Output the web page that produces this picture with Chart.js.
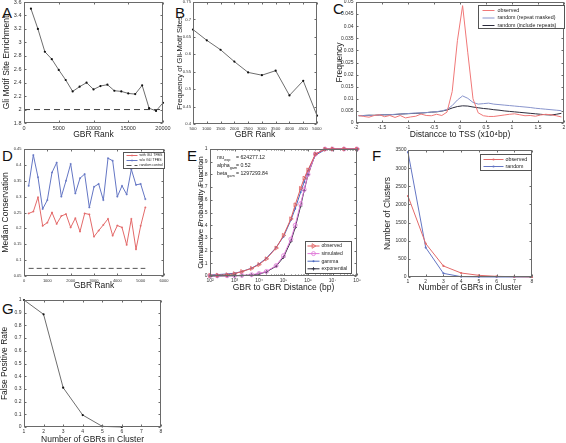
<!DOCTYPE html>
<html>
<head>
<meta charset="utf-8">
<script src="https://cdn.jsdelivr.net/npm/chart.js"></script>
<style>
html, body { margin: 0; padding: 0; background: #fff; }
body { position: relative; width: 566px; height: 443px; overflow: hidden; font-family: "Liberation Sans", Arial, sans-serif; }
canvas { position: absolute; }
.tag { position: absolute; font-size: 15px; line-height: 1; color: #111; }
</style>
</head>
<body>
<div class="tag" style="left:2px;top:5px">A</div>
<div class="tag" style="left:175px;top:5px">B</div>
<div class="tag" style="left:333px;top:1px">C</div>
<div class="tag" style="left:2px;top:148px">D</div>
<div class="tag" style="left:187px;top:148px">E</div>
<div class="tag" style="left:372px;top:148px">F</div>
<div class="tag" style="left:2px;top:301px">G</div>
<script>
// ---- data ----
// A: Gli motif site enrichment vs GBR rank
const rankA = [1000, 2000, 3000, 4000, 5000, 6000, 7000, 8000, 9000, 10000,
               11000, 12000, 13000, 14000, 15000, 16000, 17000, 18000, 19000, 20000];
const enrichA = [3.50, 3.20, 2.86, 2.75, 2.59, 2.44, 2.27, 2.34, 2.40, 2.30,
                 2.35, 2.37, 2.28, 2.27, 2.24, 2.23, 2.36, 2.02, 1.98, 2.10];
const cutoffA = 2;
const cutoffSpanA = [0, 20000];

// B: frequency of Gli-motif sites vs GBR rank
const rankB = [500, 1000, 1500, 2000, 2500, 3000, 3500, 4000, 4500, 5000];
const freqB = [0.671, 0.640, 0.613, 0.579, 0.548, 0.540, 0.553, 0.482, 0.524, 0.424];

// C: frequency vs distance to TSS (x10^4 bp)
const distC = [-1.95, -1.85, -1.75, -1.65, -1.55, -1.45, -1.35, -1.25, -1.15, -1.05,
               -0.95, -0.85, -0.75, -0.65, -0.55, -0.45, -0.35, -0.25, -0.15, -0.05,
               0.05, 0.15, 0.25, 0.35, 0.45, 0.55, 0.65, 0.75, 0.85, 0.95,
               1.05, 1.15, 1.25, 1.35, 1.45, 1.55, 1.65, 1.75, 1.85, 1.95];
const observedC = [0.0031, 0.0027, 0.0024, 0.0031, 0.0034, 0.0026, 0.0031, 0.0023, 0.0031, 0.0021,
                   0.0025, 0.0028, 0.0037, 0.0031, 0.0030, 0.0036, 0.0031, 0.0045, 0.0130, 0.0340,
                   0.0485, 0.0290, 0.0100, 0.0042, 0.0030, 0.0027, 0.0027, 0.0030, 0.0033, 0.0036,
                   0.0038, 0.0034, 0.0030, 0.0031, 0.0028, 0.0033, 0.0036, 0.0034, 0.0030, 0.0025];
const maskedC = [0.0030, 0.0031, 0.0032, 0.0031, 0.0033, 0.0034, 0.0034, 0.0036, 0.0037, 0.0038,
                 0.0040, 0.0041, 0.0042, 0.0043, 0.0045, 0.0047, 0.0050, 0.0056, 0.0072, 0.0095,
                 0.0112, 0.0102, 0.0085, 0.0078, 0.0080, 0.0082, 0.0078, 0.0076, 0.0074, 0.0072,
                 0.0070, 0.0068, 0.0066, 0.0064, 0.0061, 0.0059, 0.0057, 0.0055, 0.0053, 0.0051];
const repeatsC = [0.0030, 0.0031, 0.0032, 0.0032, 0.0033, 0.0034, 0.0034, 0.0035, 0.0037, 0.0038,
                  0.0039, 0.0040, 0.0041, 0.0043, 0.0045, 0.0046, 0.0049, 0.0054, 0.0062, 0.0068,
                  0.0071, 0.0070, 0.0066, 0.0063, 0.0060, 0.0058, 0.0055, 0.0053, 0.0050, 0.0048,
                  0.0046, 0.0044, 0.0042, 0.0040, 0.0038, 0.0036, 0.0034, 0.0033, 0.0036, 0.0040];

// D: median conservation vs GBR rank
const rankD = [200, 400, 600, 800, 1000, 1200, 1400, 1600, 1800, 2000, 2200, 2400, 2600,
               2800, 3000, 3200, 3400, 3600, 3800, 4000, 4200, 4400, 4600, 4800, 5000, 5200];
const withGliD = [0.247, 0.253, 0.298, 0.208, 0.218, 0.250, 0.214, 0.239, 0.245, 0.203, 0.232, 0.190, 0.247,
                  0.244, 0.174, 0.193, 0.211, 0.230, 0.177, 0.209, 0.203, 0.148, 0.230, 0.134, 0.208, 0.266];
const withoutGliD = [0.334, 0.431, 0.361, 0.261, 0.289, 0.376, 0.407, 0.300, 0.350, 0.403, 0.310, 0.358, 0.371,
                     0.266, 0.331, 0.340, 0.289, 0.421, 0.413, 0.300, 0.334, 0.307, 0.386, 0.337, 0.340, 0.292];
const randomD = 0.074;

// E: cumulative probability vs GBR-to-GBR distance (bp)
const distE = [100, 200, 500, 1000, 2000, 5000, 10000, 20000, 50000, 100000,
               200000, 300000, 500000, 700000, 1000000, 2000000, 5000000, 10000000, 30000000, 100000000];
const observedE = [0.005, 0.006, 0.010, 0.018, 0.035, 0.060, 0.090, 0.135, 0.220, 0.320,
                   0.450, 0.560, 0.690, 0.770, 0.835, 0.960, 0.998, 1, 1, 1];
const simulatedE = [0.001, 0.001, 0.002, 0.003, 0.005, 0.010, 0.020, 0.036, 0.082, 0.160,
                    0.290, 0.400, 0.570, 0.680, 0.800, 0.960, 1, 1, 1, 1];
const gammaE = [0.008, 0.011, 0.016, 0.022, 0.035, 0.062, 0.095, 0.140, 0.225, 0.310,
                0.440, 0.530, 0.660, 0.740, 0.830, 0.950, 0.995, 1, 1, 1];
const exponentialE = [0.000, 0.000, 0.001, 0.002, 0.003, 0.008, 0.016, 0.032, 0.077, 0.148,
                      0.274, 0.382, 0.551, 0.674, 0.798, 0.959, 1, 1, 1, 1];
const decadesE = [2, 3, 4, 5, 6, 7, 8];
const fitNotesE = [['mu', 'exp', '= 624277.12'], ['alpha', 'gam', '= 0.52'], ['beta', 'gam', '= 1297293.84']];

// F: number of clusters vs cluster size
const sizeF = [1, 2, 3, 4, 5, 6, 7, 8];
const observedF = [2229, 921, 304, 110, 46, 18, 9, 2];
const randomF = [3440, 810, 100, 9, 2, 0, 0, 0];

// G: false positive rate vs cluster size
const sizeG = [1, 2, 3, 4, 5, 6];
const fprG = [1.0, 0.887, 0.31, 0.094, 0.005, 0];

// ---- helpers ----
Chart.defaults.font.family = '"Liberation Sans", Arial, Helvetica, sans-serif';
Chart.defaults.color = '#333';

const SUP = {'0': '⁰', '1': '¹', '2': '²', '3': '³', '4': '⁴', '5': '⁵', '6': '⁶', '7': '⁷', '8': '⁸', '9': '⁹'};
const num = v => String(+(+v).toFixed(4));
const pts = (xs, ys) => xs.map((x, i) => ({x, y: ys[i]}));

function drawMark(ctx, m, x, y, r) {
  ctx.beginPath();
  if (m === 'dot') { ctx.arc(x, y, r, 0, 2 * Math.PI); ctx.fill(); return; }
  if (m === 'circle') ctx.arc(x, y, r, 0, 2 * Math.PI);
  else if (m === 'tri') { ctx.moveTo(x + r, y); ctx.lineTo(x - r * 0.6, y - r); ctx.lineTo(x - r * 0.6, y + r); ctx.closePath(); }
  else if (m === 'plus') { ctx.moveTo(x - r, y); ctx.lineTo(x + r, y); ctx.moveTo(x, y - r); ctx.lineTo(x, y + r); }
  ctx.stroke();
}

function series(label, xs, ys, color, mark, r, extra) {
  const hollow = mark === 'circle' || mark === 'tri';
  return Object.assign({
    label, data: pts(xs, ys), borderColor: color,
    backgroundColor: hollow ? 'rgba(255,255,255,0)' : color,
    borderWidth: 1, pointBorderWidth: mark === 'dot' ? 0 : 0.8,
    pointRadius: mark ? r : 0, pointHoverRadius: 0,
    pointStyle: mark === 'tri' ? 'triangle' : mark === 'plus' ? 'cross' : 'circle',
    pointRotation: mark === 'tri' ? 90 : 0,
    mark, markR: r, tension: 0, fill: false, clip: false
  }, extra || {});
}

// matlab style axes box with inward ticks
const matlabBox = {
  id: 'matlabBox',
  afterDraw(chart) {
    const {ctx, chartArea: a, scales} = chart;
    const L = Math.round(a.left) + 0.5, R = Math.round(a.right) - 0.5;
    const T = Math.round(a.top) + 0.5, B = Math.round(a.bottom) - 0.5;
    ctx.save();
    ctx.strokeStyle = '#6a6a6a';
    ctx.lineWidth = 1;
    ctx.strokeRect(L, T, R - L, B - T);
    ctx.beginPath();
    const tl = 2;
    scales.x.ticks.forEach(t => {
      const p = Math.round(scales.x.getPixelForValue(t.value)) + 0.5;
      ctx.moveTo(p, B); ctx.lineTo(p, B - tl);
      ctx.moveTo(p, T); ctx.lineTo(p, T + tl);
    });
    scales.y.ticks.forEach(t => {
      const p = Math.round(scales.y.getPixelForValue(t.value)) + 0.5;
      ctx.moveTo(L, p); ctx.lineTo(L + tl, p);
      ctx.moveTo(R, p); ctx.lineTo(R - tl, p);
    });
    if (scales.x.type === 'logarithmic') {
      scales.x.ticks.slice(0, -1).forEach(t => {
        for (let m = 2; m < 10; m++) {
          const p = Math.round(scales.x.getPixelForValue(t.value * m)) + 0.5;
          ctx.moveTo(p, B); ctx.lineTo(p, B - 1);
          ctx.moveTo(p, T); ctx.lineTo(p, T + 1);
        }
      });
    }
    ctx.stroke();
    ctx.restore();
  }
};

// boxed legend inside the axes
const boxLegend = {
  id: 'boxLegend',
  afterDraw(chart, args, o) {
    if (!o || !o.w) return;
    const {ctx, chartArea: a} = chart;
    const x0 = Math.round(a.right - o.r - o.w) + 0.5;
    const y0 = o.b != null ? Math.round(a.bottom - o.b - o.h) + 0.5 : Math.round(a.top + o.t) + 0.5;
    ctx.save();
    ctx.fillStyle = '#fff';
    ctx.strokeStyle = '#555';
    ctx.lineWidth = 1;
    ctx.fillRect(x0, y0, o.w, o.h);
    ctx.strokeRect(x0, y0, o.w, o.h);
    ctx.font = o.size + 'px "Liberation Sans", Arial, sans-serif';
    ctx.textBaseline = 'middle';
    chart.data.datasets.filter(d => d.label).forEach((d, i) => {
      const y = y0 + o.first + i * o.gap;
      ctx.strokeStyle = d.borderColor;
      ctx.lineWidth = 1;
      ctx.setLineDash(d.borderDash || []);
      ctx.beginPath();
      ctx.moveTo(x0 + o.l0, y);
      ctx.lineTo(x0 + o.l1, y);
      ctx.stroke();
      ctx.setLineDash([]);
      if (d.mark) {
        ctx.fillStyle = d.borderColor;
        ctx.lineWidth = 0.8;
        drawMark(ctx, d.mark, x0 + (o.l0 + o.l1) / 2, y, d.markR || 1.5);
      }
      ctx.fillStyle = '#222';
      ctx.fillText(d.label, x0 + o.tx, y);
    });
    ctx.restore();
  }
};

// text with subscripts (panel E fit parameters)
const notes = {
  id: 'notes',
  afterDraw(chart, args, o) {
    if (!o || !o.lines) return;
    const {ctx, chartArea: a} = chart;
    const fam = 'px "Liberation Sans", Arial, sans-serif';
    ctx.save();
    ctx.fillStyle = '#222';
    ctx.textBaseline = 'middle';
    o.lines.forEach((ln, i) => {
      const y = a.top + o.top + i * o.gap;
      let x = a.left + o.left;
      ctx.font = o.size + fam;
      ctx.fillText(ln[0], x, y);
      x += ctx.measureText(ln[0]).width;
      ctx.font = (o.size * 0.75) + fam;
      ctx.fillText(ln[1], x, y + o.size * 0.4);
      ctx.font = o.size + fam;
      ctx.fillText(ln[2], a.left + o.eq, y);
    });
    ctx.restore();
  }
};

// one axes panel; plot = [left, top, right, bottom] of the axes box on the page
function panel(plot, o) {
  const W = 40, T = 6, R = 14, H = 28;
  const left = plot[0] - W, top = plot[1] - T;
  const cv = document.createElement('canvas');
  cv.width = plot[2] - plot[0] + W + R;
  cv.height = plot[3] - plot[1] + T + H;
  cv.style.left = left + 'px';
  cv.style.top = top + 'px';
  document.body.appendChild(cv);
  const ts = o.titleSize || 8.5;
  const ys = o.yTitleSize || ts;
  const tk = o.tickSize || 5;
  const isLog = o.x.type === 'logarithmic';
  return new Chart(cv, {
    type: 'line',
    data: {datasets: o.datasets},
    options: {
      responsive: false, animation: false, devicePixelRatio: 1, events: [],
      layout: {padding: {left: 0, top: T, right: R, bottom: 0}},
      plugins: {legend: {display: false}, tooltip: {enabled: false},
                boxLegend: o.legend || {}, notes: o.notes || {}},
      scales: {
        x: {
          type: o.x.type || 'linear', position: 'bottom', min: o.x.min, max: o.x.max,
          grid: {display: false, drawTicks: false}, border: {display: false},
          ticks: {font: {size: tk}, padding: 2, autoSkip: false, maxRotation: 0, minRotation: 0,
                  stepSize: o.x.step, color: '#333',
                  callback: isLog ? v => '10' + String(Math.round(Math.log10(v))).split('').map(c => SUP[c]).join('') : num},
          afterBuildTicks: isLog ? s => { s.ticks = o.x.decades.map(e => ({value: Math.pow(10, e)})); } : undefined,
          title: {display: true, text: o.xTitle, color: '#222', font: {size: ts, lineHeight: 1},
                  padding: {top: 0, bottom: top + cv.height - o.xTitleY - ts / 2}},
          afterFit: s => { s.height = H; }
        },
        y: {
          type: 'linear', position: 'left', min: o.y.min, max: o.y.max,
          grid: {display: false, drawTicks: false}, border: {display: false},
          ticks: {font: {size: tk}, padding: o.yPad || 2.5, autoSkip: false, stepSize: o.y.step,
                  color: '#333', callback: num},
          title: {display: true, text: o.yTitle, color: '#222', font: {size: ys, lineHeight: 1},
                  padding: {top: o.yTitleX - left - ys / 2, bottom: 0}},
          afterFit: s => { s.width = W; }
        }
      }
    },
    plugins: [matlabBox, boxLegend, notes]
  });
}

const GRAY = '#6e6e6e', RED = '#e36a6a', BLUE = '#6476c4', DARK = '#2c2c3c';
const dotBlack = {pointBackgroundColor: '#111', pointBorderColor: '#111'};

// A
panel([24, 2, 163, 123], {
  x: {min: 0, max: 20000, step: 5000}, y: {min: 1.8, max: 3.6, step: 0.2},
  xTitle: 'GBR Rank', xTitleY: 135, yTitle: 'Gli Motif Site Enrichment', yTitleX: 7, tickSize: 5.5,
  datasets: [
    series(null, cutoffSpanA, [cutoffA, cutoffA], '#444', null, 0, {borderDash: [6, 4]}),
    series(null, rankA, enrichA, GRAY, 'dot', 1.1, dotBlack)
  ]
});

// B
panel([193, 2, 317, 124], {
  x: {min: 500, max: 5000, step: 500}, y: {min: 0.4, max: 0.75, step: 0.05},
  xTitle: 'GBR Rank', xTitleY: 135, yTitle: 'Frequency of Gli-Motif Sites', yTitleX: 180, yTitleSize: 7.6,
  tickSize: 4.2, yPad: 2,
  datasets: [
    series(null, rankB, freqB, GRAY, 'dot', 1.1, dotBlack)
  ]
});

// C
panel([356, 2, 564, 123], {
  x: {min: -2, max: 2, step: 0.5}, y: {min: 0, max: 0.05, step: 0.005},
  xTitle: 'Distancce to TSS (x10⁴bp)', xTitleY: 135, yTitle: 'Frequency', yTitleX: 339.5, tickSize: 5,
  legend: {w: 86, h: 23, r: 0, t: 3, first: 5, gap: 7.5, l0: 4, l1: 16, tx: 19, size: 5.3},
  datasets: [
    series('observed', distC, observedC, '#f07878', null, 0),
    series('random (repeat masked)', distC, maskedC, '#8894cc', null, 0),
    series('random (include repeats)', distC, repeatsC, DARK, null, 0)
  ]
});

// D
panel([24, 149, 164, 276], {
  x: {min: 0, max: 6000, step: 1000}, y: {min: 0.05, max: 0.45, step: 0.05},
  xTitle: 'GBR Rank', xTitleY: 286, yTitle: 'Median Conservation', yTitleX: 5.5, tickSize: 4,
  legend: {w: 41, h: 16, r: 0, t: 3, first: 3, gap: 5, l0: 3, l1: 14, tx: 16, size: 3.5},
  datasets: [
    series('with GLI TFBS', rankD, withGliD, RED, 'plus', 1),
    series('w/o GLI TFBS', rankD, withoutGliD, BLUE, 'plus', 1),
    series('random control', [rankD[0], rankD[rankD.length - 1]], [randomD, randomD], '#555', null, 0, {borderDash: [5, 3]})
  ]
});

// E
panel([210, 149, 357, 276], {
  x: {type: 'logarithmic', min: 100, max: 100000000, decades: decadesE}, y: {min: 0, max: 1, step: 0.1},
  xTitle: 'GBR to GBR Distance (bp)', xTitleY: 288, yTitle: 'Cumulative Probability Function', yTitleX: 201,
  yTitleSize: 8, tickSize: 5,
  legend: {w: 46, h: 32, r: 6, b: 3, first: 4.5, gap: 7.6, l0: 2, l1: 14, tx: 16, size: 5},
  notes: {lines: fitNotesE, left: 7, eq: 26, top: 9, gap: 8, size: 5.2},
  datasets: [
    series('observed', distE, observedE, '#e05c5c', 'tri', 2.3),
    series('simulated', distE, simulatedE, '#e07ad8', 'circle', 2),
    series('gamma', distE, gammaE, '#4a68c0', 'dot', 1),
    series('exponential', distE, exponentialE, DARK, 'plus', 1.8)
  ]
});

// F
panel([408, 150, 532, 277], {
  x: {min: 1, max: 8, step: 1}, y: {min: 0, max: 3500, step: 500},
  xTitle: 'Number of GBRs in Cluster', xTitleY: 288, yTitle: 'Number of Clusters', yTitleX: 388, tickSize: 5, yPad: 1.5,
  legend: {w: 51, h: 16, r: 1, t: 4, first: 5, gap: 7, l0: 3, l1: 23, tx: 25, size: 5.3},
  datasets: [
    series('observed', sizeF, observedF, RED, 'dot', 1.1),
    series('random', sizeF, randomF, BLUE, 'dot', 1.1)
  ]
});

// G
panel([24, 300, 161, 427], {
  x: {min: 1, max: 8, step: 1}, y: {min: 0, max: 1, step: 0.1},
  xTitle: 'Number of GBRs in Cluster', xTitleY: 439.5, yTitle: 'False Positive Rate', yTitleX: 5, tickSize: 5,
  datasets: [
    series(null, sizeG, fprG, GRAY, 'dot', 1.1, dotBlack)
  ]
});
</script>
</body>
</html>
